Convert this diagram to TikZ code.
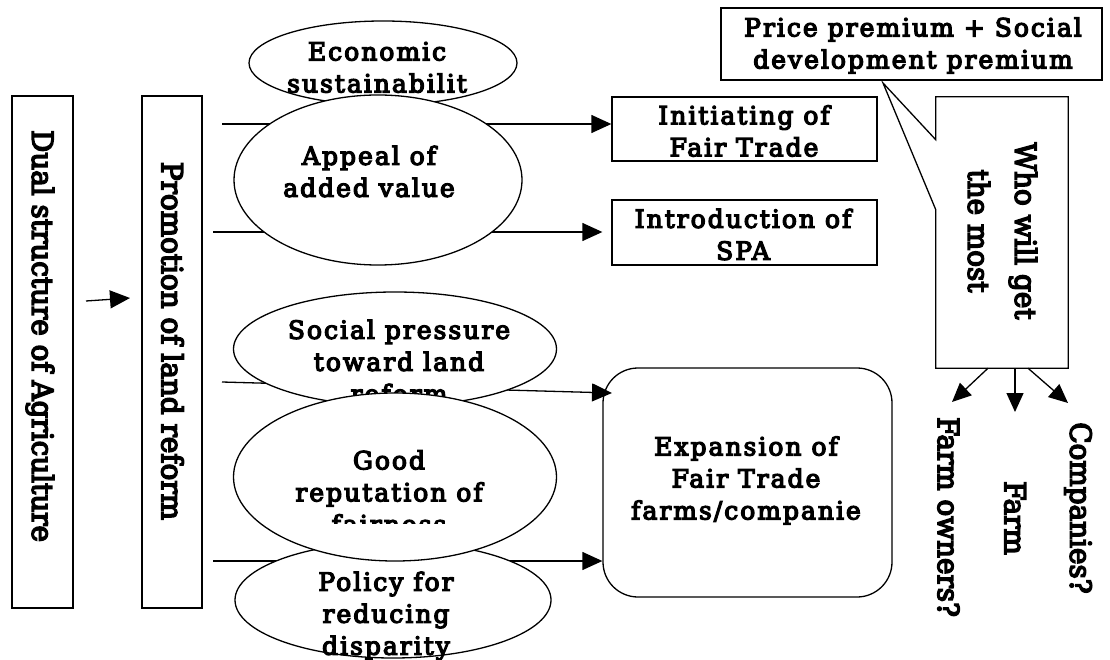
\documentclass[tikz,border=0pt]{standalone}
\usepackage{fontspec}
\setmainfont{DejaVu Serif}[LetterSpace=8,FakeBold=5]
\newfontfamily\vertfont{DejaVu Serif}[FakeStretch=0.96,FakeBold=5]
\usetikzlibrary{arrows.meta,shapes.geometric,calc}
\begin{document}
\begin{tikzpicture}[x=1pt,y=-1pt,
 txt/.style={font=\fontsize{25}{32}\selectfont,align=center,inner sep=0pt},
 vtxt/.style={font=\vertfont\fontsize{29}{47}\selectfont,align=center,inner sep=0pt,rotate=-90},
 box/.style={draw,line width=1.3pt,inner sep=0pt},
 ell/.style={draw,fill=white,ellipse,line width=1.3pt,inner sep=0pt},
 arr/.style={line width=1.3pt,-{Triangle[length=20pt,width=18pt]}},
 sarr/.style={line width=1.3pt,-{Triangle[length=19pt,width=17pt]}},
]
\useasboundingbox (0,0) rectangle (1110,660);
% left boxes
\node[box,minimum width=61,minimum height=512] (dual) at (42.5,352) {};
\node[vtxt] (dualt) at (40,336) {Dual structure of Agriculture};
\node[box,minimum width=60,minimum height=512] (promo) at (172,352) {};
\node[vtxt] (promot) at (172.5,341) {Promotion of land reform};
\coordinate (a0) at (86,301);
\coordinate (a1) at (130,298);
\draw[arr] (a0) -- (a1);
% right boxes
\node[box,minimum width=265,minimum height=64] (init) at (744.5,129) {};
\node[txt] (initt) at (744,131) {Initiating of\\Fair Trade};
\node[box,minimum width=265,minimum height=65] (spa) at (744.5,232.5) {};
\node[txt] (spat) at (743,234.5) {Introduction of\\SPA};
\node[box,rounded corners=35pt,minimum width=289,minimum height=229] (exp) at (747.5,482.5) {};
\node[txt] (expt) at (746,480.5) {Expansion of\\Fair Trade\\farms/companie};
% connectors
\coordinate (s1) at (222,124);
\draw[arr] (s1) -- (s1 -| init.west);
\coordinate (s2) at (213,232);
\draw[arr] (s2) -- ($(s2 -| spa.west)+(-9,0)$);
\coordinate (s3) at (222,382);
\coordinate (e3) at (612,393);
\draw[arr] (s3) -- (e3);
\coordinate (s4) at (213,561);
\draw[arr] (s4) -- (s4 -| exp.west);
% ellipses
\node[ell,minimum width=268,minimum height=84] (econ) at (383,63) {};
\node[txt] (econt) at (377,67.4) {Economic\\sustainabilit};
\node[ell,minimum width=288,minimum height=170] (appeal) at (378,180) {};
\node[txt] (appealt) at (369,171.5) {Appeal of\\added value};
\node[ell,minimum width=323,minimum height=114] (social) at (395,349) {};
\node[txt] (socialt) at (399,361.5) {Social pressure\\toward land\\reform};
\node[ell,minimum width=316,minimum height=116] (policy) at (393,600) {};
\node[txt] (policyt) at (386,616) {Policy for\\reducing\\disparity};
\node[ell,minimum width=323,minimum height=168] (good) at (395,477) {};
\begin{scope}
\clip (230,430) rectangle (560,523);
\node[txt] (goodt) at (389,492) {Good\\reputation of\\fairness};
\end{scope}
% callout
\node[box,minimum width=381,minimum height=72] (price) at (911.5,44) {};
\node[txt] (pricet) at (913,45.5) {Price premium + Social\\development premium};
\node[inner sep=0pt,minimum width=132,minimum height=271] (who) at (1002,232.5) {};
\coordinate (tip) at (883,83);
\draw[line width=1.3pt] ($(who.north west)+(0,43)$) -- (tip) -- ($(who.north west)+(0,113)$) -- (who.south west) -- (who.south east) -- (who.north east) -- (who.north west) -- cycle;
\node[vtxt] (whot) at (1002.5,231) {Who will get\\the most};
% outcomes
\coordinate (o1) at (952,402);
\coordinate (o2) at (1015,412);
\coordinate (o3) at (1068,403);
\draw[sarr] ($(who.south)+(-14,0)$) -- (o1);
\draw[sarr] ($(who.south)+(13,0)$) -- (o2);
\draw[sarr] ($(who.south)+(26,0)$) -- (o3);
\node[vtxt] (fo) at (948.5,517) {Farm owners?};
\node[vtxt] (fm) at (1015,518) {Farm};
\node[vtxt] (co) at (1078,508) {Companies?};
\end{tikzpicture}
\end{document}
